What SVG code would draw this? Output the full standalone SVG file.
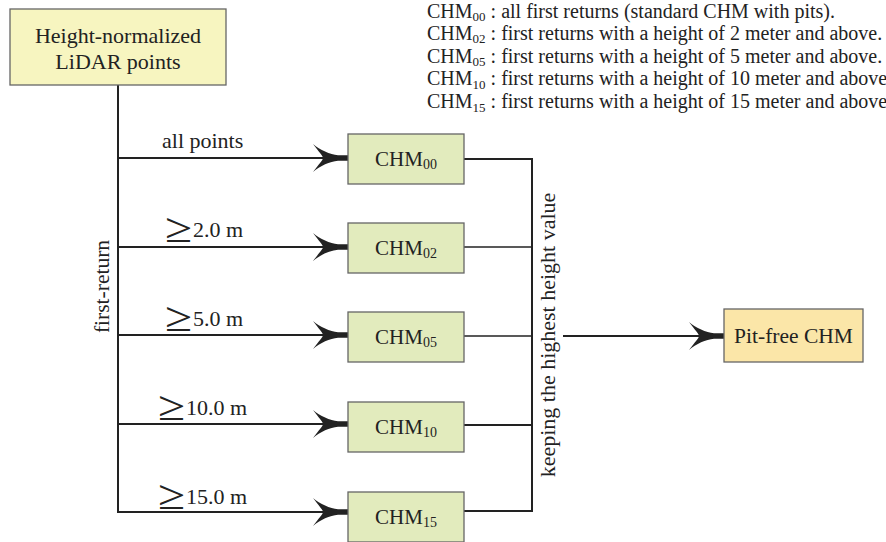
<svg xmlns="http://www.w3.org/2000/svg" width="886" height="542" viewBox="0 0 886 542">
<defs>
<style>
.t{font-family:"Liberation Serif","Times New Roman",serif;fill:#222}
.box{stroke:#666;stroke-width:1.3}
.src{fill:#f7f5c0}
.chm{fill:#e2ebbd}
.out{fill:#fbe6a8}
.ln{stroke:#222;stroke-width:2;fill:none}
.lt{stroke:#222;stroke-width:1.6;fill:none}
</style>
<marker id="barb" viewBox="-36 -15 37 30" markerWidth="37" markerHeight="30" refX="0" refY="0" markerUnits="userSpaceOnUse" orient="auto">
<path d="M0,-2.8 L-10,-2.8 C-18,-3.5 -28,-8 -35,-14 C-29,-6 -25,-2 -25,0 C-25,2 -29,6 -35,14 C-28,8 -18,3.5 -10,2.8 L0,2.8 Z" fill="#222"/>
</marker>
</defs>
<rect width="886" height="542" fill="#fff"/>

<g id="legend" class="t" font-size="20">
<text x="427" y="17.5">CHM<tspan font-size="13" dy="3">00</tspan><tspan dy="-3"> : all first returns (standard CHM with pits).</tspan></text>
<text x="427" y="40">CHM<tspan font-size="13" dy="3">02</tspan><tspan dy="-3"> : first returns with a height of 2 meter and above.</tspan></text>
<text x="427" y="62.5">CHM<tspan font-size="13" dy="3">05</tspan><tspan dy="-3"> : first returns with a height of 5 meter and above.</tspan></text>
<text x="427" y="85">CHM<tspan font-size="13" dy="4">10</tspan><tspan dy="-4"> : first returns with a height of 10 meter and above</tspan></text>
<text x="427" y="107.5">CHM<tspan font-size="13" dy="4">15</tspan><tspan dy="-4"> : first returns with a height of 15 meter and above</tspan></text>
</g>

<g id="connectors">
<line class="ln" x1="118" y1="85" x2="118" y2="513"/>
<line class="ln" x1="118" y1="158" x2="348" y2="158" marker-end="url(#barb)"/>
<line class="ln" x1="118" y1="247" x2="348" y2="247" marker-end="url(#barb)"/>
<line class="ln" x1="118" y1="335" x2="348" y2="335" marker-end="url(#barb)"/>
<line class="ln" x1="118" y1="424" x2="348" y2="424" marker-end="url(#barb)"/>
<line class="ln" x1="117" y1="512" x2="348" y2="512" marker-end="url(#barb)"/>
<line class="ln" x1="464" y1="159" x2="533" y2="159"/>
<line class="lt" x1="464" y1="247" x2="532" y2="247"/>
<line class="lt" x1="464" y1="336" x2="532" y2="336"/>
<line class="ln" x1="464" y1="425" x2="532" y2="425"/>
<line class="ln" x1="464" y1="511" x2="533" y2="511"/>
<line class="ln" x1="532" y1="158" x2="532" y2="512"/>
<line class="ln" x1="563" y1="336" x2="724" y2="336" marker-end="url(#barb)"/>
<text class="t" font-size="22" x="162" y="148">all points</text>
<text class="t" font-size="38" transform="translate(165,242) scale(1.3,1.1)">≥</text><text class="t" font-size="22" x="193" y="237">2.0 m</text>
<text class="t" font-size="38" transform="translate(165,331) scale(1.3,1.1)">≥</text><text class="t" font-size="22" x="193" y="326">5.0 m</text>
<text class="t" font-size="38" transform="translate(158,420) scale(1.3,1.1)">≥</text><text class="t" font-size="22" x="186" y="415">10.0 m</text>
<text class="t" font-size="38" transform="translate(158,509) scale(1.3,1.1)">≥</text><text class="t" font-size="22" x="186" y="504">15.0 m</text>
<text class="t" font-size="21.5" text-anchor="middle" transform="translate(109,286.5) rotate(-90)">first-return</text>
<text class="t" font-size="22" text-anchor="middle" transform="translate(555,335) rotate(-90)">keeping the highest height value</text>
</g>

<g id="source">
<rect class="box src" x="10" y="9" width="216" height="76"/>
<text class="t" font-size="22" x="118" y="43" text-anchor="middle">Height-normalized</text>
<text class="t" font-size="22" x="118" y="69" text-anchor="middle">LiDAR points</text>
</g>

<g id="chm00">
<rect class="box chm" x="348" y="134" width="116" height="50"/>
<text class="t" font-size="21" x="406" y="166" text-anchor="middle">CHM<tspan font-size="14" dy="3">00</tspan></text>
</g>
<g id="chm02">
<rect class="box chm" x="348" y="223" width="116" height="50"/>
<text class="t" font-size="21" x="406" y="255" text-anchor="middle">CHM<tspan font-size="14" dy="3">02</tspan></text>
</g>
<g id="chm05">
<rect class="box chm" x="348" y="312" width="116" height="50"/>
<text class="t" font-size="21" x="406" y="344" text-anchor="middle">CHM<tspan font-size="14" dy="3">05</tspan></text>
</g>
<g id="chm10">
<rect class="box chm" x="348" y="402" width="116" height="50"/>
<text class="t" font-size="21" x="406" y="434" text-anchor="middle">CHM<tspan font-size="14" dy="3">10</tspan></text>
</g>
<g id="chm15">
<rect class="box chm" x="348" y="492" width="116" height="50"/>
<text class="t" font-size="21" x="406" y="524" text-anchor="middle">CHM<tspan font-size="14" dy="3">15</tspan></text>
</g>

<g id="pitfree">
<rect class="box out" x="724" y="309" width="139" height="53"/>
<text class="t" font-size="21.5" x="793.5" y="343" text-anchor="middle">Pit-free CHM</text>
</g>
</svg>
